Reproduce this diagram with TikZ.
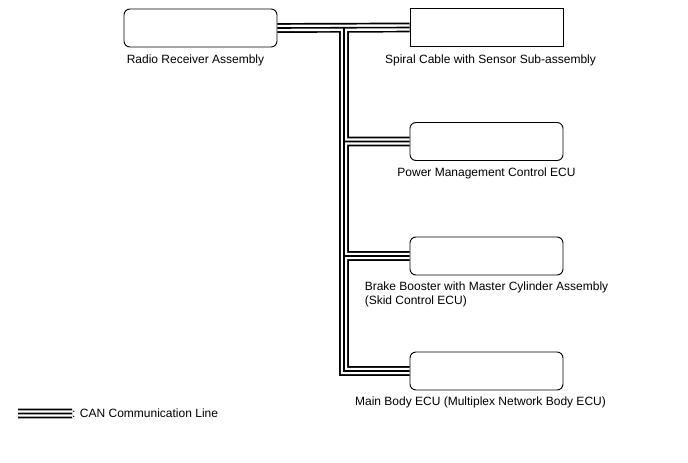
\documentclass[tikz,border=0pt]{standalone}
\usepackage{fontspec}
\setmainfont{Liberation Sans}
\usetikzlibrary{positioning}
\tikzset{
    ecu/.style={draw, line width=0.9pt, rounded corners=6pt, fill=white, minimum width=153pt, minimum height=38pt, inner sep=0pt},
    ecusq/.style={ecu, rounded corners=0pt},
    lbl/.style={font=\fontsize{12}{14}\selectfont, inner sep=0pt, align=left},
    canouter/.style={line width=9.8pt, black},
    caninner/.style={line width=6.4pt, white},
    cancore/.style={line width=1.6pt, black},
}
\begin{document}
\begin{tikzpicture}[x=1pt, y=-1pt]
    \useasboundingbox (0,0) rectangle (688,463);

    % ECUs
    \node[ecu] (radio) at (200.5,28) {};
    \node[ecusq] (spiral) at (486.5,27.5) {};
    \node[ecu] (pmecu) at (486.5,141.5) {};
    \node[ecu] (brake) at (486.5,256) {};
    \node[ecu] (mainecu) at (486.5,371) {};

    \node[lbl, below=7pt of radio, xshift=-5pt] (radiotxt) {Radio Receiver Assembly};
    \node[lbl, below=7.5pt of spiral, xshift=4pt] (spiraltxt) {Spiral Cable with Sensor Sub-assembly};
    \node[lbl, below=6.5pt of pmecu] (pmtxt) {Power Management Control ECU};
    \node[lbl, below=6.5pt of brake] (braketxt) {Brake Booster with Master Cylinder Assembly\\(Skid Control ECU)};
    \node[lbl, below=6.5pt of mainecu, xshift=-6pt] (maintxt) {Main Body ECU (Multiplex Network Body ECU)};

    \coordinate (bustop) at (344,28);
    \coordinate (busend) at (344,371);

    % legend
    \coordinate (legA) at (18,413.5);
    \node[lbl, anchor=west] (legtxt) at (72,413.5) {: CAN Communication Line};

    % CAN bus, three passes
    \draw[canouter] (radio.east) -- (spiral.west) (bustop) -- (busend) -- (mainecu.west)
        (pmecu.west -| bustop) -- (pmecu.west) (brake.west -| bustop) -- (brake.west)
        (legA) -- (legtxt.west);
    \draw[caninner] (radio.east) -- (spiral.west) (bustop) -- (busend) -- (mainecu.west)
        (pmecu.west -| bustop) -- (pmecu.west) (brake.west -| bustop) -- (brake.west)
        (legA) -- (legtxt.west);
    \draw[cancore] (radio.east) -- (spiral.west) (bustop) -- (busend) -- (mainecu.west)
        (pmecu.west -| bustop) -- (pmecu.west) (brake.west -| bustop) -- (brake.west)
        (legA) -- (legtxt.west);
\end{tikzpicture}
\end{document}
